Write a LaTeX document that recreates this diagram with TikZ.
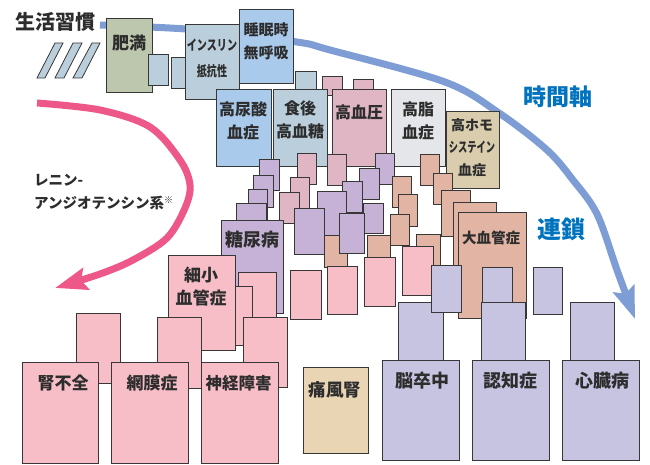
\documentclass[tikz,border=0pt]{standalone}
\usepackage{fontspec}
\usepackage{graphicx}
\newfontfamily\jp{Noto Sans CJK JP}
\usetikzlibrary{fit,arrows.meta}
\definecolor{cBG}{RGB}{186,207,219}
\definecolor{cLB}{RGB}{170,202,235}
\definecolor{cOB}{RGB}{189,199,174}
\definecolor{cMV}{RGB}{224,182,197}
\definecolor{cGY}{RGB}{229,230,233}
\definecolor{cHM}{RGB}{217,205,174}
\definecolor{cPU}{RGB}{197,178,214}
\definecolor{cSA}{RGB}{226,180,163}
\definecolor{cPK}{RGB}{247,190,200}
\definecolor{cLV}{RGB}{199,196,226}
\definecolor{cTF}{RGB}{233,212,180}
\definecolor{cArcB}{RGB}{125,157,212}
\definecolor{cArcP}{RGB}{238,88,137}
\definecolor{cTxtB}{RGB}{0,115,190}
\definecolor{cEdge}{RGB}{55,55,55}
\definecolor{cTxt}{RGB}{45,45,45}
\newcommand{\bx}[6]{\node[blk,fill=#2,fit={(#3,#4) (#5,#6)}] (#1) {};}
\newcommand{\fs}[2]{\fontsize{#1}{#2}\selectfont}
\begin{document}
\begin{tikzpicture}[x=1pt,y=-1pt,
  blk/.style={draw=cEdge,line width=0.9pt,inner sep=0pt,outer sep=0pt},
  lbl/.style={font=\jp\bfseries,text=cTxt,align=center,inner sep=0pt},
  arcline/.style={line width=7pt,line cap=butt},
  hatch/.style={fill=cBG,draw=cEdge,line width=0.8pt}]
\useasboundingbox (0,0) rectangle (650,465);
\fill[white] (0,0) rectangle (650,465);

% arcs
\draw[arcline,draw=cArcB,-{Stealth[length=32pt,width=22pt,inset=5pt]}]
  plot[smooth,tension=0.55] coordinates {(100,25) (200,30) (297,42) (330,50) (445,82) (499,113) (547,150) (573,180) (597,214) (617,270) (635,319)};
\draw[arcline,draw=cArcP,-{Stealth[length=32pt,width=22pt,inset=5pt]}]
  plot[smooth,tension=0.55] coordinates {(37,103) (100,110) (150,127) (180,160) (190,185) (185,208) (167,238) (133,260) (100,274) (55,288)};

% hatch marks
\filldraw[hatch] (55,43) -- (63,43) -- (45,78) -- (37,78) -- cycle;
\filldraw[hatch] (73,43) -- (82,43) -- (64,78) -- (55,78) -- cycle;
\filldraw[hatch] (92,43) -- (100,43) -- (82,78) -- (73,78) -- cycle;

\node[lbl,font=\jp\bfseries\fs{20}{24}] (life) at (55,22) {生活習慣};
\node[lbl,font=\jp\bfseries\fs{14.5}{23},anchor=west] (renin1) at (34,180) {レニン-};
\node[lbl,font=\jp\bfseries\fs{14.5}{23},anchor=west] (renin2) at (34,203) {アンジオテンシン系\raisebox{5pt}{\fs{9}{9}※}};
\node[lbl,font=\jp\bfseries\fs{23}{26},text=cTxtB] (jikan) at (558,97) {時間軸};
\node[lbl,font=\jp\bfseries\fs{24}{26},text=cTxtB] (rensa) at (561,229) {連鎖};

% back small boxes
\bx{s3}{cBG}{295}{71}{316}{95}
\bx{m0a}{cMV}{322}{76}{342}{95}
\bx{m0b}{cMV}{353}{79}{373}{95}
% top boxes
\bx{himan}{cOB}{106}{18}{152}{92}
\bx{s1}{cBG}{148}{54}{168}{85}
\bx{s2}{cBG}{171}{57}{190}{88}
\bx{insulin}{cBG}{185}{24}{239}{99}
\bx{sleep}{cLB}{239}{9}{293}{83}
\bx{uric}{cLB}{216}{89}{271}{166}
\bx{pp}{cBG}{273}{89}{327}{166}
\bx{htn}{cMV}{332}{89}{386}{166}
\bx{lipid}{cGY}{391}{89}{445}{166}
\bx{homo}{cHM}{446}{111}{499}{188}

\node[lbl,font=\jp\bfseries\fs{17}{20}] (t-himan) at (129,43) {肥満};
\node[lbl,font=\jp\bfseries\fs{14}{20}] (t-ins1) at (212,45) {\scalebox{0.72}[1]{インスリン}};
\node[lbl,font=\jp\bfseries\fs{14}{20}] (t-ins2) at (212,71) {\scalebox{0.72}[1]{抵抗性}};
\node[lbl,font=\jp\bfseries\fs{15}{23}] (t-sleep) at (266,41.5) {睡眠時\\無呼吸};
\node[lbl,font=\jp\bfseries\fs{16}{23}] (t-uric) at (243,120.5) {高尿酸\\血症};
\node[lbl,font=\jp\bfseries\fs{16}{23}] (t-pp) at (300,120) {食後\\高血糖};
\node[lbl,font=\jp\bfseries\fs{16}{23}] (t-htn) at (359,112) {高血圧};
\node[lbl,font=\jp\bfseries\fs{16}{23}] (t-lipid) at (418,120.5) {高脂\\血症};
\node[lbl,font=\jp\bfseries\fs{14}{20}] (t-homo1) at (472,125) {高ホモ};
\node[lbl,font=\jp\bfseries\fs{14}{20}] (t-homo2) at (472,147) {\scalebox{0.66}[1]{システイン}};
\node[lbl,font=\jp\bfseries\fs{14}{20}] (t-homo3) at (472,170) {血症};

% middle small boxes
\bx{p1}{cPU}{259}{159}{279}{190}
\bx{m1}{cMV}{297}{153}{316}{184}
\bx{m4}{cMV}{327}{154}{346}{185}
\bx{r1}{cPU}{375}{153}{394}{184}
\bx{s5}{cSA}{420}{154}{439}{185}
\bx{p2}{cPU}{253}{175}{273}{207}
\bx{m2}{cMV}{290}{177}{309}{208}
\bx{r2}{cPU}{359}{168}{379}{199}
\bx{s6}{cSA}{433}{173}{452}{204}
\bx{sa1}{cSA}{392}{176}{411}{207}
\bx{p3}{cPU}{248}{189}{267}{220}
\bx{m3}{cMV}{279}{192}{299}{223}
\bx{r3}{cPU}{342}{181}{362}{212}
\bx{q2}{cPU}{317}{191}{346}{237}
\bx{sa2}{cSA}{398}{194}{417}{226}
\bx{s7}{cSA}{441}{190}{470}{236}
\bx{p4}{cPU}{236}{203}{266}{225}
\bx{s8}{cSA}{453}{202}{496}{265}
\bx{r4}{cPU}{363}{203}{383}{233}
\bx{q1}{cPU}{294}{208}{324}{254}
\bx{s10}{cSA}{324}{235}{347}{267}
\bx{q3}{cPU}{339}{213}{364}{253}
\bx{sa3}{cSA}{390}{214}{409}{245}
\bx{big}{cSA}{458}{212}{526}{318}
\bx{dm}{cPU}{221}{220}{283}{313}
\bx{s9}{cSA}{416}{234}{440}{265}
\bx{sa4}{cSA}{367}{235}{390}{258}
\bx{t1}{cPK}{402}{246}{433}{295}
\bx{t2}{cPK}{364}{257}{395}{306}
\bx{t3}{cPK}{327}{266}{357}{314}
\bx{t4}{cPK}{290}{270}{321}{319}
\bx{u1}{cLV}{398}{302}{443}{360}
\bx{l1}{cLV}{431}{265}{461}{312}
\bx{l2}{cLV}{482}{267}{512}{305}
\bx{l3}{cLV}{533}{267}{562}{314}
\bx{u2}{cLV}{481}{302}{525}{360}
\bx{u3}{cLV}{570}{302}{614}{360}
\bx{v1}{cPK}{238}{272}{276}{317}
\bx{v2}{cPK}{233}{286}{252}{345}
\bx{micro}{cPK}{168}{255}{235}{350}
\bx{x0}{cPK}{76}{313}{120}{383}
\bx{w1}{cPK}{157}{317}{201}{388}
\bx{w2}{cPK}{243}{317}{287}{387}

\node[lbl,font=\jp\bfseries\fs{18}{22}] (t-dm) at (252,239.5) {糖尿病};
\node[lbl,font=\jp\bfseries\fs{14.5}{20}] (t-big) at (491,237.5) {大血管症};
\node[lbl,font=\jp\bfseries\fs{17}{23}] (t-micro) at (201,286.5) {細小\\血管症};

% bottom boxes
\bx{renal}{cPK}{22}{362}{98}{463}
\bx{retina}{cPK}{111}{362}{188}{463}
\bx{neuro}{cPK}{201}{362}{278}{463}
\bx{gout}{cTF}{303}{367}{368}{453}
\bx{stroke}{cLV}{382}{360}{459}{460}
\bx{dementia}{cLV}{472}{360}{549}{460}
\bx{heart}{cLV}{562}{360}{639}{460}

\node[lbl,font=\jp\bfseries\fs{17}{20}] (t-renal) at (63,383.5) {腎不全};
\node[lbl,font=\jp\bfseries\fs{17}{20}] (t-retina) at (152,383.5) {網膜症};
\node[lbl,font=\jp\bfseries\fs{16.5}{20}] (t-neuro) at (238.5,383.5) {神経障害};
\node[lbl,font=\jp\bfseries\fs{17.5}{20}] (t-gout) at (335,389.5) {痛風腎};
\node[lbl,font=\jp\bfseries\fs{18}{20}] (t-stroke) at (422,381) {脳卒中};
\node[lbl,font=\jp\bfseries\fs{18}{20}] (t-dementia) at (510,381) {認知症};
\node[lbl,font=\jp\bfseries\fs{18}{20}] (t-heart) at (602,381) {心臓病};
\end{tikzpicture}
\end{document}
